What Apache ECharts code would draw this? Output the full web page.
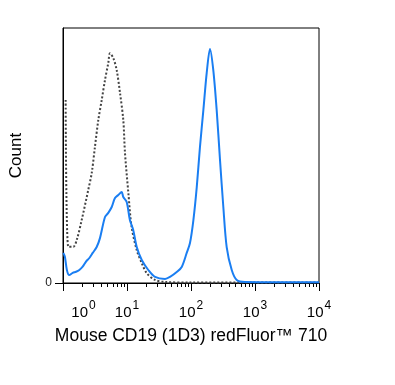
<!DOCTYPE html>
<html><head><meta charset="utf-8">
<script src="https://cdn.jsdelivr.net/npm/echarts@6/dist/echarts.min.js"></script>
<style>html,body{margin:0;padding:0;background:#fff}#c{width:395px;height:385px}</style>
</head><body><div id="c"></div>
<script>
// Isotype control (dotted gray) : x = fluorescence, y = % of max count
const controlX = [1.10, 1.21, 1.45, 1.64, 1.96, 2.48, 2.81, 3.16, 3.56, 4.03, 4.53, 5.10, 5.42, 6.11, 6.90, 7.78, 8.75, 9.30, 10.5, 11.8, 14.2, 17.0, 20.3, 27.4, 39.3, 100, 1000, 10000];
const controlY = [71.8, 14.2, 14.2, 16.9, 24.7, 36.5, 43.1, 53.5, 63.9, 71.8, 79.6, 86.3, 90.1, 88.2, 83.5, 74.5, 63.9, 51.0, 35.3, 22.0, 12.9, 7.8, 3.9, 1.2, 0.4, 0.2, 0.2, 0.2];
// CD19 stained (blue)
const stainX = [1.01, 1.07, 1.15, 1.25, 1.42, 1.60, 1.80, 2.03, 2.29, 2.58, 2.91, 3.36, 3.78, 4.53, 5.10, 5.77, 6.49, 7.31, 8.26, 8.75, 9.89, 11.1, 12.5, 14.2, 17.0, 21.5, 27.4, 39.3, 47.0, 59.8, 71.6, 85.7, 96.4, 109, 123, 138, 156, 176, 198, 223, 252, 284, 320, 361, 433, 518, 698, 2500, 10000];
const stainY = [11.8, 10.3, 5.1, 3.1, 4.0, 4.4, 5.1, 6.4, 8.4, 9.8, 11.8, 14.1, 17.6, 25.9, 27.5, 29.8, 33.3, 34.5, 35.7, 33.7, 31.8, 24.7, 20.8, 14.1, 9.0, 5.1, 2.4, 1.6, 2.4, 4.3, 6.3, 11.8, 15.7, 24.7, 37.6, 53.3, 67.8, 82.4, 91.8, 83.5, 67.8, 48.2, 29.8, 14.1, 5.1, 1.2, 0.4, 0.3, 0.3];
const majorTicks = [1, 10, 100, 1000, 10000];
const minorTicks = [];
for (const d of [1, 10, 100, 1000]) for (let k = 2; k <= 9; k++) minorTicks.push(k * d);
const yTicks = [0];
const xTitle = 'Mouse CD19 (1D3) redFluor™ 710';
const yTitle = 'Count';

const zip = (xs, ys) => xs.map((x, i) => [x, ys[i]]);
const chart = echarts.init(document.getElementById('c'));
const font = 'Liberation Sans, Arial, sans-serif';
chart.setOption({
  animation: false,
  grid: { left: 63, right: 76, top: 28, bottom: 102, show: true, borderColor: '#000', borderWidth: 1, backgroundColor: 'transparent' },
  xAxis: [{
    type: 'log', logBase: 10, min: 1, max: 10000,
    name: xTitle, nameLocation: 'middle', nameGap: 44,
    nameTextStyle: { fontFamily: font, fontSize: 17.5, color: '#000' },
    axisLine: { lineStyle: { color: '#000', width: 1 } },
    axisTick: { show: true, customValues: majorTicks, length: 8, lineStyle: { color: '#000' } },
    splitLine: { show: false },
    axisLabel: {
      customValues: majorTicks, margin: 17,
      fontFamily: font, color: '#000',
      formatter: function (v) {
        const e = Math.round(Math.log10(v));
        return (e === 0 ? '{p|}' : '') + '{b|10}{s|' + e + '}';
      },
      rich: {
        b: { fontFamily: font, fontSize: 15, color: '#000', verticalAlign: 'bottom', lineHeight: 20 },
        s: { fontFamily: font, fontSize: 12, color: '#000', verticalAlign: 'top', lineHeight: 20, padding: [0, 0, 0, 1] },
        p: { width: 41 }
      }
    }
  }, {
    type: 'log', logBase: 10, min: 1, max: 10000, position: 'bottom',
    axisLine: { show: true, lineStyle: { color: '#000', width: 1 } },
    axisTick: { show: true, customValues: minorTicks, length: 4, lineStyle: { color: '#000', width: 1 } },
    axisLabel: { show: false },
    splitLine: { show: false }
  }],
  yAxis: {
    type: 'value', min: 0, max: 100,
    name: yTitle, nameLocation: 'middle', nameGap: 38, nameRotate: 90,
    nameTextStyle: { fontFamily: font, fontSize: 17, color: '#000' },
    axisLine: { show: true, lineStyle: { color: '#000', width: 1 } },
    axisTick: { show: true, customValues: yTicks, length: 8, lineStyle: { color: '#000' } },
    axisLabel: { customValues: yTicks, margin: 11, fontFamily: font, fontSize: 12, color: '#222', padding: [0, 0, 10, 0] },
    splitLine: { show: false }
  },
  series: [{
    type: 'line', data: zip(controlX, controlY), showSymbol: false, smooth: 0.3,
    lineStyle: { color: '#444', width: 2, type: [2, 2] }, z: 2
  }, {
    type: 'line', data: zip(stainX, stainY), showSymbol: false, smooth: 0.3,
    lineStyle: { color: '#1a7ef2', width: 2 }, z: 3
  }]
});
</script></body></html>
